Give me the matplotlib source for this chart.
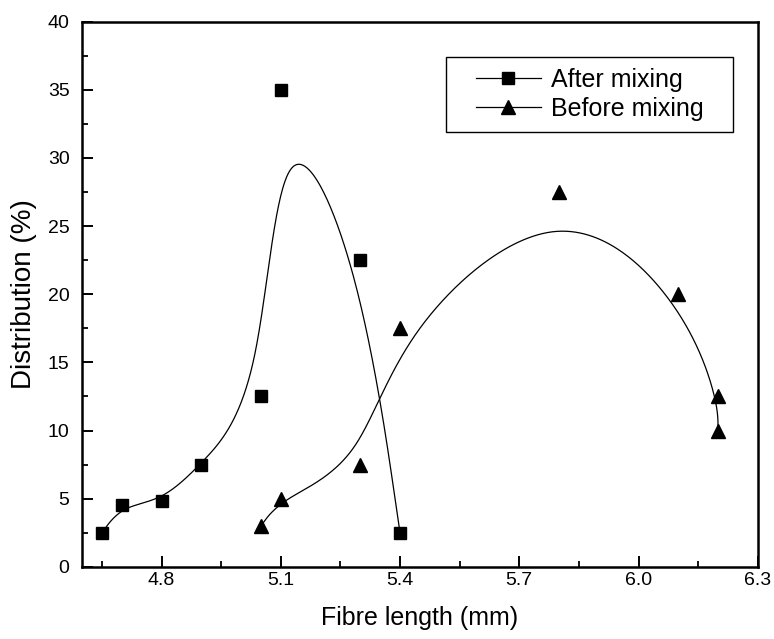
import numpy as np
import matplotlib
matplotlib.use("Agg")
import matplotlib.pyplot as plt
from matplotlib.ticker import MultipleLocator
from matplotlib.patches import Rectangle
from matplotlib.transforms import IdentityTransform

plt.rcParams['font.family'] = ['Liberation Sans', 'DejaVu Sans']

after_x = [4.65, 4.70, 4.80, 4.90, 5.05, 5.10, 5.30, 5.40]
after_y = [2.5, 4.5, 4.8, 7.5, 12.5, 35.0, 22.5, 2.5]
before_x = [5.05, 5.10, 5.30, 5.40, 5.80, 6.10, 6.20, 6.20]
before_y = [3.0, 5.0, 7.5, 17.5, 27.5, 20.0, 12.5, 10.0]


def bspline(xs, ys, n=60):
    """Uniform cubic B-spline using the data as control points (ends tripled)."""
    P = np.column_stack([xs, ys])
    P = np.vstack([P[:1], P[:1], P, P[-1:], P[-1:]])
    M = np.array([[-1, 3, -3, 1], [3, -6, 3, 0], [-3, 0, 3, 0], [1, 4, 1, 0]]) / 6.0
    s = np.linspace(0, 1, n)
    T = np.column_stack([s ** 3, s ** 2, s, np.ones_like(s)])
    pts = []
    for i in range(len(P) - 3):
        pts.append(T @ M @ P[i:i + 4])
    C = np.vstack(pts)
    return C[:, 0], C[:, 1]


fig = plt.figure(figsize=(7.74, 6.39), dpi=100)
ax = fig.add_axes([0.106, 0.113, 0.873, 0.853])

ax_c, ay_c = bspline(after_x, after_y)
bx_c, by_c = bspline(before_x, before_y)
ax.plot(ax_c, ay_c, color='black', lw=0.9)
ax.plot(bx_c, by_c, color='black', lw=0.9)
ax.plot(after_x, after_y, ls='none', marker='s', ms=8, color='black')
ax.plot(before_x, before_y, ls='none', marker='^', ms=10, color='black')

ax.plot([], [], color='black', lw=0.9, marker='s', ms=8, label='After mixing')
ax.plot([], [], color='black', lw=0.9, marker='^', ms=10, label='Before mixing')
leg = ax.legend(loc='upper right', bbox_to_anchor=(0.936, 0.936), fontsize=18,
                frameon=False, handlelength=2.6, handletextpad=0.4,
                borderpad=0.45, labelspacing=0.2, borderaxespad=0)

ax.set_xlim(4.6, 6.3)
ax.set_ylim(0, 40)
ax.set_xticks([4.8, 5.1, 5.4, 5.7, 6.0, 6.3])
ax.set_xticklabels(['4.8', '5.1', '5.4', '5.7', '6.0', '6.3'])
ax.xaxis.set_minor_locator(MultipleLocator(0.15))
ax.yaxis.set_major_locator(MultipleLocator(5))
ax.yaxis.set_minor_locator(MultipleLocator(2.5))
ax.tick_params(which='major', direction='in', length=8, width=1.4, labelsize=14,
               top=False, right=False)
ax.tick_params(axis='x', which='major', pad=4)
ax.tick_params(axis='y', which='major', pad=9)
ax.tick_params(which='minor', direction='in', length=4.5, width=1.3, top=False, right=False)
for s in ax.spines.values():
    s.set_linewidth(1.8)

ax.set_xlabel('Fibre length (mm)', fontsize=18, labelpad=12)
ax.set_ylabel('Distribution (%)', fontsize=20, labelpad=8)

fig.canvas.draw()
bb = leg.get_window_extent(fig.canvas.get_renderer())
dx = 18
frame = Rectangle((bb.x0 - dx, bb.y0), bb.width + 2 * dx, bb.height,
                  transform=IdentityTransform(), fill=False, edgecolor='black',
                  linewidth=1.0, zorder=5)
fig.add_artist(frame)

fig.savefig('out.png', dpi=100)
